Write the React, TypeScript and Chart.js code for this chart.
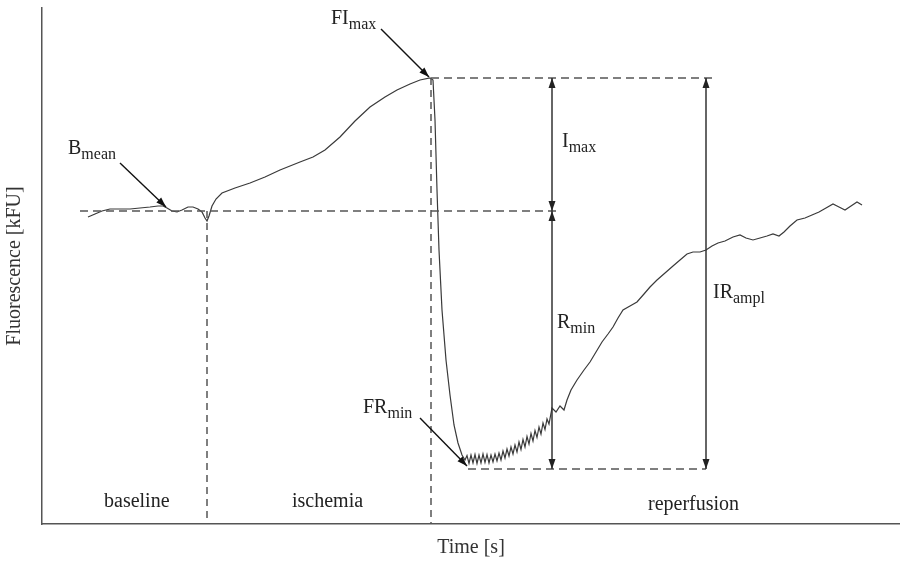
import React, { useEffect, useRef } from "react";
import { Chart, registerables } from "chart.js";

Chart.register(...registerables);

// ---- data (time in s, fluorescence in kFU) ----
const timeS: number[] = [
  92, 106, 120, 136, 156, 176, 196, 216, 232, 242,
  250, 260, 270, 280, 292, 302, 312, 320, 326, 330,
  334, 340, 348, 360, 386, 416, 446, 476, 516, 542,
  566, 596, 626, 656, 686, 710, 736, 756, 776, 782,
  786, 790, 794, 800, 808, 816, 824, 832, 840, 846,
  850, 854, 858, 862, 866, 870, 874, 878, 882, 886,
  890, 894, 898, 902, 906, 910, 914, 918, 922, 926,
  930, 934, 938, 942, 946, 950, 954, 958, 962, 966,
  970, 974, 978, 982, 986, 990, 994, 998, 1002, 1006,
  1010, 1014, 1020, 1028,
  1036, 1044, 1050, 1058, 1070, 1084, 1096, 1108, 1120, 1132,
  1142, 1152, 1162, 1176, 1190, 1204, 1216, 1230, 1246, 1262,
  1276, 1290, 1302, 1316, 1328, 1340, 1352, 1366, 1382, 1396,
  1408, 1422, 1436, 1450, 1462, 1474, 1484, 1496, 1510, 1526,
  1540, 1554, 1568, 1582, 1594, 1606, 1618, 1630, 1640,
];
const fluorescence: number[] = [
  61.4, 62.0, 62.6, 63.0, 63.0, 63.0, 63.2, 63.4, 63.6, 63.6,
  63.2, 62.6, 62.4, 62.8, 63.4, 63.4, 63.0, 62.4, 61.2, 60.6,
  61.6, 63.6, 65.0, 66.2, 67.2, 68.2, 69.4, 70.8, 72.4, 73.4,
  74.8, 77.4, 80.6, 83.4, 85.4, 86.8, 88.0, 88.8, 89.2, 88.8,
  80.8, 66.8, 54.8, 42.8, 32.8, 25.8, 19.8, 16.2, 13.8, 12.8,
  13.7, 12.1, 13.8, 12.2, 13.9, 12.1, 13.8, 12.2, 14.0, 12.3,
  13.9, 12.2, 13.8, 12.4, 14.0, 12.6, 14.2, 12.8, 14.6, 13.2,
  15.0, 13.6, 15.4, 14.0, 15.8, 14.4, 16.4, 14.9, 16.9, 15.4,
  17.5, 16.0, 18.1, 16.6, 18.7, 17.3, 19.4, 18.0, 20.2, 18.9,
  21.0, 20.0, 23.2, 22.4,
  23.6, 22.8, 24.8, 26.8, 28.8, 30.8, 32.4, 34.4, 36.4, 38.0,
  39.4, 41.2, 42.8, 43.6, 44.4, 46.0, 47.4, 48.8, 50.2, 51.6,
  52.8, 54.0, 54.4, 54.4, 54.8, 55.6, 56.2, 56.6, 57.4, 57.8,
  57.2, 56.8, 57.2, 57.6, 58.0, 57.6, 58.4, 59.6, 60.8, 61.2,
  61.8, 62.4, 63.2, 64.0, 63.4, 62.8, 63.6, 64.4, 63.8,
];

// axis ranges
const X_MIN = 0;
const X_MAX = 1716;
const Y_MIN = 0;
const Y_MAX = 103.2;

// reference levels / phase boundaries
const B_MEAN = 62.6;
const FI_MAX = 89.2;
const FR_MIN = 11.0;
const T_ISCHEMIA = 330;
const T_REPERFUSION = 778;
const T_ARROW_INNER = 1020;
const T_ARROW_OUTER = 1328;
const baselineDashT = [76, 1032];
const topDashT = [778, 1350];
const bottomDashT = [852, 1328];

// pointer arrows [fromT, fromV, toT, toV]
const pointerBmean = [156, 72.2, 248, 63.4];
const pointerFImax = [678, 99.0, 774, 89.4];
const pointerFRmin = [756, 21.2, 850, 11.6];

// labels: main, subscript, time, value (left / baseline)
const labelMain = ["B", "FI", "I", "R", "IR", "FR"];
const labelSub = ["mean", "max", "max", "min", "ampl", "min"];
const labelT = [52, 578, 1040, 1030, 1342, 642];
const labelV = [74.0, 100.0, 75.4, 39.2, 45.2, 22.2];

const phaseText = ["baseline", "ischemia", "reperfusion"];
const phaseT = [124, 500, 1212];
const phaseV = [3.4, 3.4, 2.8];

const FONT = '"Liberation Serif", "DejaVu Serif", serif';

const annotate = {
  id: "annotate",
  afterDatasetsDraw(chart: any) {
    const { ctx, scales } = chart;
    const X = (t: number) => scales.x.getPixelForValue(t);
    const Y = (v: number) => scales.y.getPixelForValue(v);
    const line = (x1: number, y1: number, x2: number, y2: number) => {
      ctx.beginPath();
      ctx.moveTo(x1, y1);
      ctx.lineTo(x2, y2);
      ctx.stroke();
    };
    const head = (fx: number, fy: number, tx: number, ty: number) => {
      const ang = Math.atan2(ty - fy, tx - fx);
      const len = 10;
      const hw = 3.5;
      const bx = tx - len * Math.cos(ang);
      const by = ty - len * Math.sin(ang);
      ctx.beginPath();
      ctx.moveTo(tx, ty);
      ctx.lineTo(bx + hw * Math.sin(ang), by - hw * Math.cos(ang));
      ctx.lineTo(bx - hw * Math.sin(ang), by + hw * Math.cos(ang));
      ctx.closePath();
      ctx.fill();
    };
    const arrow = (x1: number, y1: number, x2: number, y2: number, both: boolean) => {
      line(x1, y1, x2, y2);
      head(x1, y1, x2, y2);
      if (both) head(x2, y2, x1, y1);
    };

    ctx.save();
    // dashed guides
    ctx.strokeStyle = "#555";
    ctx.lineWidth = 1.5;
    ctx.setLineDash([8, 5]);
    line(X(baselineDashT[0]), Y(B_MEAN), X(baselineDashT[1]), Y(B_MEAN));
    line(X(topDashT[0]), Y(FI_MAX), X(topDashT[1]), Y(FI_MAX));
    line(X(bottomDashT[0]), Y(FR_MIN), X(bottomDashT[1]), Y(FR_MIN));
    ctx.setLineDash([7, 5]);
    line(X(T_ISCHEMIA), Y(B_MEAN), X(T_ISCHEMIA), Y(Y_MIN));
    line(X(T_REPERFUSION), Y(FI_MAX), X(T_REPERFUSION), Y(Y_MIN));
    ctx.setLineDash([]);

    // measurement arrows
    ctx.strokeStyle = "#333";
    ctx.fillStyle = "#222";
    ctx.lineWidth = 1.5;
    arrow(X(T_ARROW_INNER), Y(FI_MAX), X(T_ARROW_INNER), Y(B_MEAN), true);
    arrow(X(T_ARROW_INNER), Y(B_MEAN), X(T_ARROW_INNER), Y(FR_MIN), true);
    arrow(X(T_ARROW_OUTER), Y(FI_MAX), X(T_ARROW_OUTER), Y(FR_MIN), true);

    // pointer arrows
    ctx.lineWidth = 1.4;
    ctx.strokeStyle = "#111";
    ctx.fillStyle = "#111";
    for (const p of [pointerBmean, pointerFImax, pointerFRmin]) {
      arrow(X(p[0]), Y(p[1]), X(p[2]), Y(p[3]), false);
    }

    // labels with subscripts
    ctx.fillStyle = "#222";
    ctx.textAlign = "left";
    ctx.textBaseline = "alphabetic";
    for (let i = 0; i < labelMain.length; i++) {
      const lx = X(labelT[i]);
      const ly = Y(labelV[i]);
      ctx.font = `20px ${FONT}`;
      ctx.fillText(labelMain[i], lx, ly);
      const w = ctx.measureText(labelMain[i]).width;
      ctx.font = `16px ${FONT}`;
      ctx.fillText(labelSub[i], lx + w, ly + 5);
    }
    ctx.font = `20px ${FONT}`;
    for (let i = 0; i < phaseText.length; i++) {
      ctx.fillText(phaseText[i], X(phaseT[i]), Y(phaseV[i]));
    }
    ctx.restore();
  },
};

export default function App() {
  const ref = useRef<HTMLCanvasElement | null>(null);
  useEffect(() => {
    if (!ref.current) return;
    const points = timeS.map((t, i) => ({ x: t, y: fluorescence[i] }));
    const chart = new Chart(ref.current, {
      type: "line",
      data: {
        datasets: [
          {
            data: points,
            borderColor: "#3a3a3a",
            borderWidth: 1.2,
            pointRadius: 0,
            tension: 0,
            fill: false,
          },
        ],
      },
      options: {
        responsive: false,
        animation: false,
        layout: { padding: { top: 8, right: 0, left: 0, bottom: 0 } },
        plugins: { legend: { display: false }, tooltip: { enabled: false }, title: { display: false } },
        scales: {
          x: {
            type: "linear",
            min: X_MIN,
            max: X_MAX,
            grid: { display: false, drawTicks: false },
            ticks: { display: false },
            border: { display: true, color: "#555", width: 1.5 },
            title: {
              display: true,
              text: "Time [s]",
              color: "#333",
              font: { family: FONT, size: 20, lineHeight: 1.2 },
              padding: { top: 12, bottom: 1 },
            },
          },
          y: {
            type: "linear",
            min: Y_MIN,
            max: Y_MAX,
            grid: { display: false, drawTicks: false },
            ticks: { display: false },
            border: { display: true, color: "#555", width: 1.5 },
            title: {
              display: true,
              text: "Fluorescence [kFU]",
              color: "#333",
              font: { family: FONT, size: 20, lineHeight: 1.2 },
              padding: { top: 3, bottom: 15 },
            },
          },
        },
      },
      plugins: [annotate],
    });
    return () => chart.destroy();
  }, []);
  return (
    <div style={{ position: "fixed", left: 0, top: 0, width: 900, height: 561, background: "#fff" }}>
      <canvas ref={ref} width={900} height={561} />
    </div>
  );
}
